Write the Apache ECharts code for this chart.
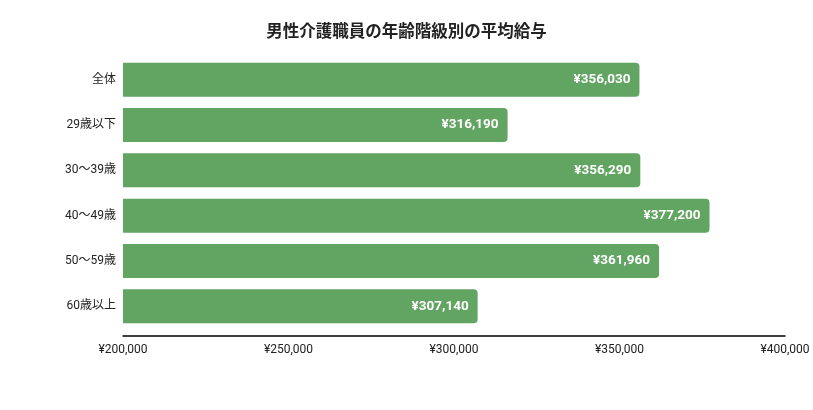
<!DOCTYPE html>
<html>
<head>
<meta charset="utf-8">
<script src="https://cdn.jsdelivr.net/npm/echarts@6/dist/echarts.min.js"></script>
<style>
  html, body { margin: 0; padding: 0; background: #fff; }
  #chart { width: 813px; height: 410px; }
</style>
</head>
<body>
<div id="chart"></div>
<script>
// 年齢階級（上から順）
const categories = ["全体", "29歳以下", "30〜39歳", "40〜49歳", "50〜59歳", "60歳以上"];
// 平均給与（円）
const salaries = [356030, 316190, 356290, 377200, 361960, 307140];
const axisTicks = [200000, 250000, 300000, 350000, 400000];

const yen = v => "¥" + v.toLocaleString("en-US");

const chart = echarts.init(document.getElementById("chart"));
chart.setOption({
  animation: false,
  title: {
    text: "男性介護職員の年齢階級別の平均給与",
    left: "center",
    top: 17,
    textStyle: { fontSize: 16.5, fontWeight: "bold", color: "#222", fontFamily: "Noto Sans CJK JP" }
  },
  grid: { left: 123, right: 28, top: 57, height: 272 },
  xAxis: {
    type: "value",
    min: axisTicks[0],
    max: axisTicks[axisTicks.length - 1],
    interval: axisTicks[1] - axisTicks[0],
    offset: 7,
    axisLine: { show: true, lineStyle: { color: "#000", width: 1.5 } },
    axisTick: { show: false },
    splitLine: { show: false },
    axisLabel: {
      formatter: v => yen(v),
      color: "#222",
      fontSize: 12,
      margin: 8,
      fontFamily: "Roboto, Noto Sans CJK JP"
    }
  },
  yAxis: {
    type: "category",
    data: categories,
    inverse: true,
    axisLine: { show: false },
    axisTick: { show: false },
    axisLabel: { color: "#222", fontSize: 12, margin: 7, fontFamily: "Roboto, Noto Sans CJK JP" }
  },
  series: [{
    type: "bar",
    data: salaries,
    barCategoryGap: "25%",
    itemStyle: { color: "#62a462", borderRadius: [0, 4, 4, 0] },
    label: {
      show: true,
      position: "insideRight",
      distance: 9,
      color: "#fff",
      fontWeight: "bold",
      fontSize: 13.5,
      fontFamily: "Roboto",
      formatter: p => yen(p.value)
    }
  }]
});
</script>
</body>
</html>
